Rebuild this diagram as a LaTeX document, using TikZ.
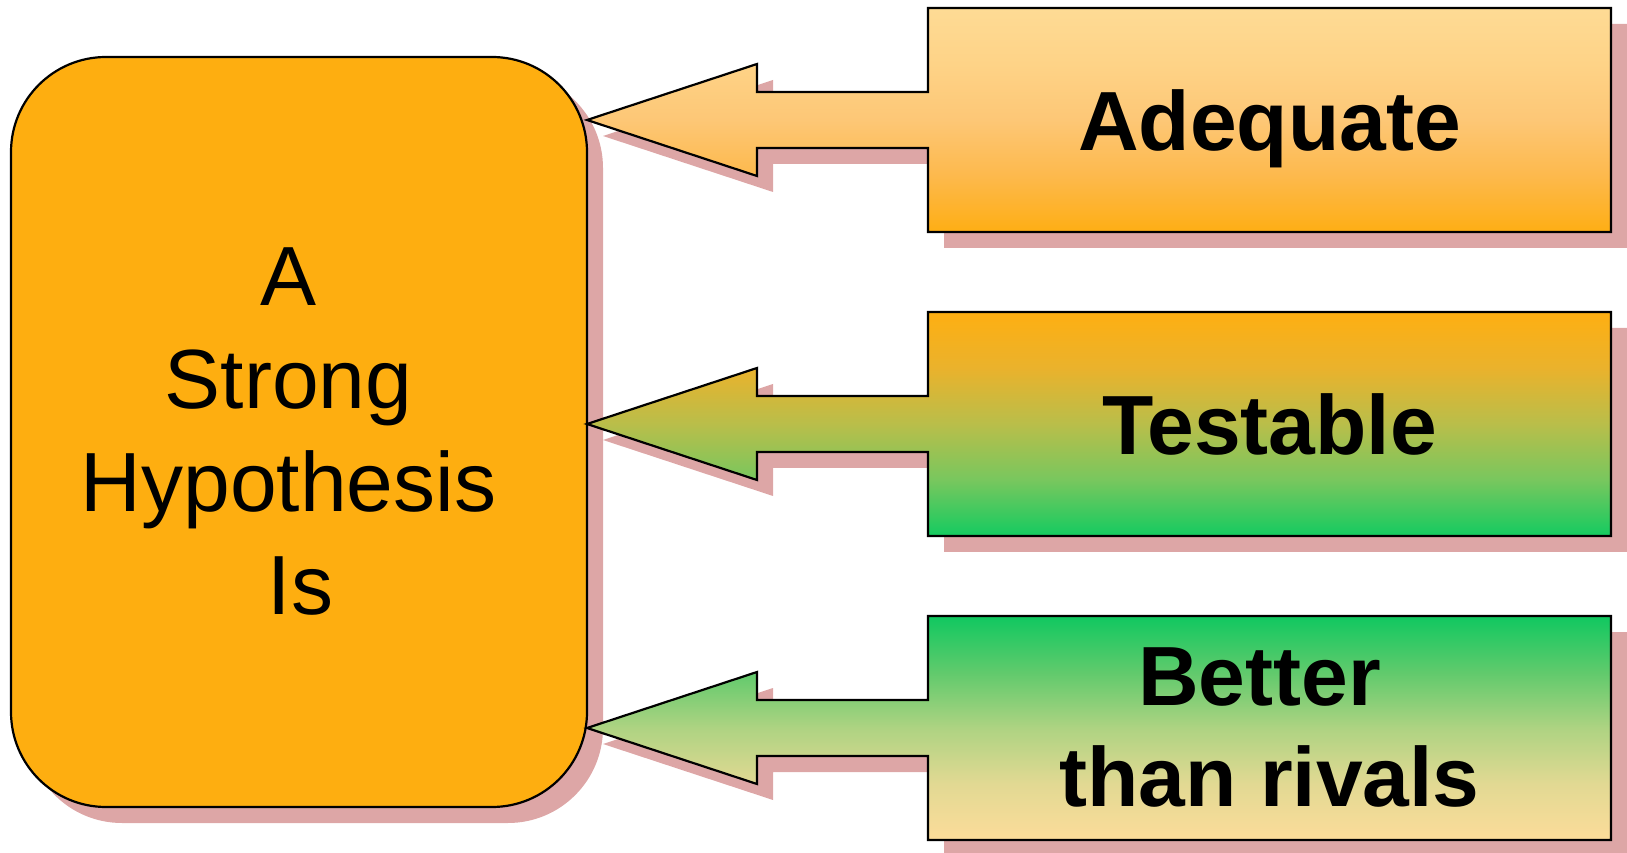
\documentclass[tikz,border=0pt]{standalone}
\usepackage{fontspec}
\setmainfont{Liberation Sans}
\usetikzlibrary{calc}

% palette
\definecolor{hypfill}{HTML}{FEAE10}
\definecolor{shadowc}{HTML}{DDA6A6}
\definecolor{aTop}{HTML}{FEDB95}
\definecolor{aQ1}{HTML}{FED387}
\definecolor{aMid}{HTML}{FDC776}
\definecolor{aQ3}{HTML}{FDB94C}
\definecolor{aBot}{HTML}{FEAE14}
\definecolor{bTop}{HTML}{FEAF12}
\definecolor{bQ1}{HTML}{EAB22C}
\definecolor{bMid}{HTML}{B9BE4A}
\definecolor{bQ3}{HTML}{78C75E}
\definecolor{bBot}{HTML}{14CB60}
\definecolor{cTop}{HTML}{10C860}
\definecolor{cQ1}{HTML}{60CA6C}
\definecolor{cMid}{HTML}{AED382}
\definecolor{cQ3}{HTML}{E2D993}
\definecolor{cBot}{HTML}{FCDC9A}

% vertical gradients (path box is mapped to 25bp..75bp)
\pgfdeclareverticalshading{fillA}{100bp}{color(0bp)=(aBot); color(25bp)=(aBot);
  color(37.5bp)=(aQ3); color(50bp)=(aMid); color(62.5bp)=(aQ1); color(75bp)=(aTop); color(100bp)=(aTop)}
\pgfdeclareverticalshading{fillB}{100bp}{color(0bp)=(bBot); color(25bp)=(bBot);
  color(37.5bp)=(bQ3); color(50bp)=(bMid); color(62.5bp)=(bQ1); color(75bp)=(bTop); color(100bp)=(bTop)}
\pgfdeclareverticalshading{fillC}{100bp}{color(0bp)=(cBot); color(25bp)=(cBot);
  color(37.5bp)=(cQ3); color(50bp)=(cMid); color(62.5bp)=(cQ1); color(75bp)=(cTop); color(100bp)=(cTop)}

\pgfdeclarelayer{background}
\pgfsetlayers{background,main}

% outline of a quality box merged with its block arrow pointing at the hypothesis box
\newcommand\qualitypath[1]{(#1.north west) -- (#1.north east) -- (#1.south east)
  -- (#1.south west) -- ([yshift=-28pt]#1.west) -- ++(-171,0) -- ++(0,-28)
  -- (hyp.east |- #1.west) -- ([shift={(-171pt,56pt)}]#1.west) -- ++(0,-28)
  -- ([yshift=28pt]#1.west) -- cycle}

\tikzset{
  outline/.style={draw=black, line width=2.2pt},
  hypgeom/.style={minimum width=576pt, minimum height=750pt, inner sep=0pt, outer sep=0pt},
  qualgeom/.style={minimum width=683pt, minimum height=224pt, inner sep=0pt, outer sep=0pt,
    font=\bfseries\fontsize{84}{101}\selectfont, align=center},
  single/.style={text depth=0pt},
  hyptextstyle/.style={font=\fontsize{84}{103}\selectfont, align=center, inner sep=0pt}
}

\begin{document}
\begin{tikzpicture}[x=1pt, y=1pt]
\useasboundingbox (0,0) rectangle (1627,852);

% geometry and labels
\node[hypgeom] (hyp) at (299,420) {};
\node[hyptextstyle] (hyptext) at ([xshift=-10.5pt]hyp.center)
  {A\\Strong\\Hypothesis\\\hspace*{24pt}Is};
\node[qualgeom, single] (adq) at (1269.5,732) {Adequate};
\node[qualgeom, single] (tst) at (1269.5,428) {Testable};
\node[qualgeom] (btr) at (1269.5,124) {Better\hspace*{20pt}\\than rivals};

\begin{pgfonlayer}{background}
  % drop shadows
  \begin{scope}[transform canvas={xshift=16pt, yshift=-16pt}]
    \fill[shadowc, rounded corners=95pt] (hyp.south west) rectangle (hyp.north east);
    \fill[shadowc] \qualitypath{adq};
    \fill[shadowc] \qualitypath{tst};
    \fill[shadowc] \qualitypath{btr};
  \end{scope}
  % hypothesis box
  \draw[outline, fill=hypfill, rounded corners=95pt] (hyp.south west) rectangle (hyp.north east);
  % quality boxes with arrows
  \shade[shading=fillA] \qualitypath{adq};
  \draw[outline] \qualitypath{adq};
  \shade[shading=fillB] \qualitypath{tst};
  \draw[outline] \qualitypath{tst};
  \shade[shading=fillC] \qualitypath{btr};
  \draw[outline] \qualitypath{btr};
\end{pgfonlayer}
\end{tikzpicture}
\end{document}
